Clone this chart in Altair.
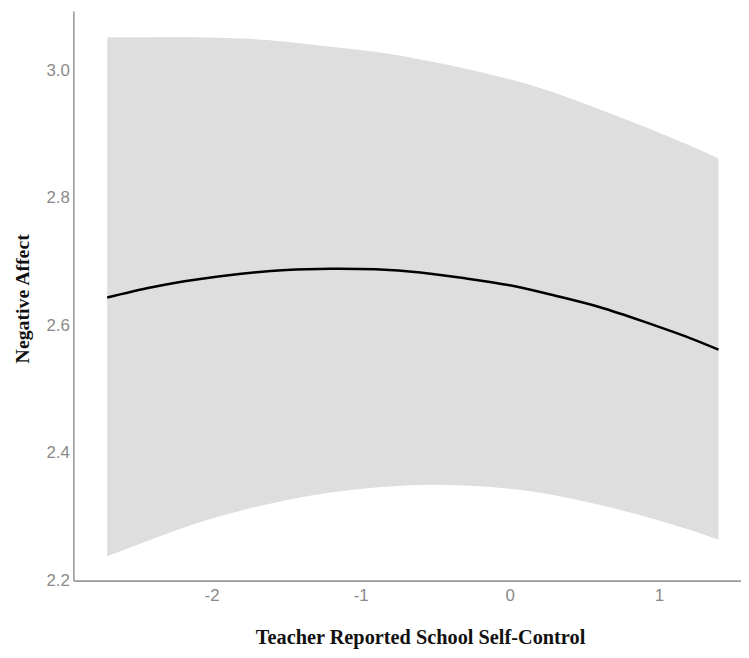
import altair as alt
import pandas as pd

# Estimated values
x_vals = [-2.7, -2.4, -2.1, -1.8, -1.5, -1.2, -0.9, -0.6, -0.3, 0.0, 0.3, 0.6, 0.9, 1.2, 1.4]
fit = [2.644, 2.660, 2.672, 2.681, 2.687, 2.689, 2.688, 2.683, 2.674, 2.663, 2.647, 2.629, 2.606, 2.581, 2.562]
upper = [3.052, 3.052, 3.052, 3.050, 3.045, 3.037, 3.029, 3.017, 3.003, 2.986, 2.965, 2.939, 2.912, 2.883, 2.862]
lower = [2.238, 2.265, 2.290, 2.310, 2.326, 2.338, 2.346, 2.350, 2.349, 2.344, 2.334, 2.319, 2.301, 2.280, 2.264]

x_ticks = [-2, -1, 0, 1]
y_ticks = [2.2, 2.4, 2.6, 2.8, 3.0]

df = pd.DataFrame({"x": x_vals, "fit": fit, "upper": upper, "lower": lower})

x_scale = alt.Scale(domain=[-2.927, 1.551], nice=False, zero=False)
y_scale = alt.Scale(domain=[2.2, 3.093], nice=False, zero=False)

label_font = "Liberation Sans"
title_font = "Liberation Serif"

x_axis = alt.Axis(
    values=x_ticks,
    labelExpr="'' + datum.value",
    title="Teacher Reported School Self-Control",
    titleFont=title_font, titleFontSize=20.5, titleFontWeight="bold", titleColor="#111111",
    titleX=350, titleY=57, titleBaseline="middle", titleAnchor="middle",
    labelFont=label_font, labelFontSize=17, labelColor="#8a8a8a", labelPadding=7,
    ticks=False, tickSize=0, grid=False,
    domainColor="#9a9a9a", domainWidth=1.6,
)
y_axis = alt.Axis(
    values=y_ticks,
    labelExpr="format(datum.value, '.1f')",
    title="Negative Affect",
    titleFont=title_font, titleFontSize=20, titleFontWeight="bold", titleColor="#111111",
    titleX=-51, titleY=290, titleBaseline="middle", titleAngle=270, titleAnchor="middle",
    labelFont=label_font, labelFontSize=17, labelColor="#8a8a8a", labelPadding=4,
    ticks=False, tickSize=0, grid=False,
    domainColor="#9a9a9a", domainWidth=1.6,
)

band = alt.Chart(df).mark_area(color="#dedede", opacity=1, interpolate="natural").encode(
    x=alt.X("x:Q", scale=x_scale, axis=x_axis),
    y=alt.Y("lower:Q", scale=y_scale, axis=y_axis),
    y2="upper:Q",
)

line = alt.Chart(df).mark_line(color="#000000", strokeWidth=2.5, interpolate="natural").encode(
    x=alt.X("x:Q", scale=x_scale),
    y=alt.Y("fit:Q", scale=y_scale),
)

chart = (band + line).properties(
    width=674,
    height=575,
    autosize=alt.AutoSizeParams(type="none"),
    padding={"left": 66, "top": 0, "right": 0, "bottom": 70},
    background="white",
).configure_view(strokeWidth=0)

chart.save("out.html", embed_options={"renderer": "svg", "actions": False})
